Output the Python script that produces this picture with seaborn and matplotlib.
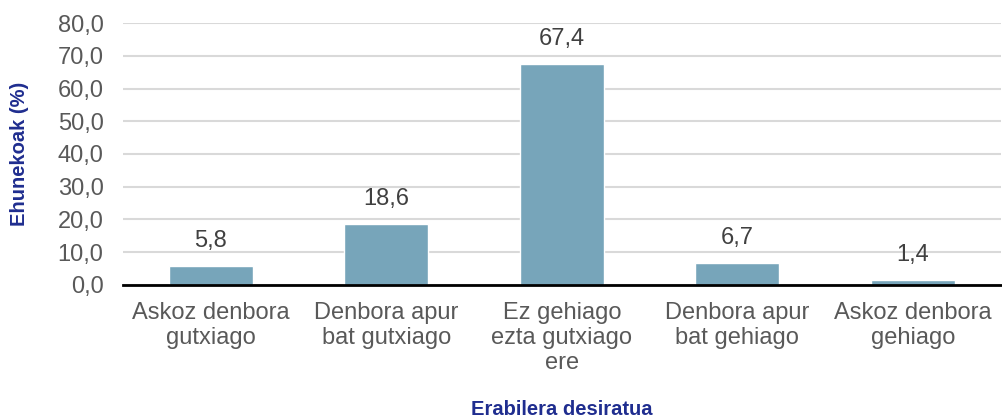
import matplotlib
matplotlib.use("Agg")
import matplotlib.pyplot as plt
import seaborn as sns
import pandas as pd
import numpy as np
from matplotlib.ticker import FuncFormatter, FixedLocator

# Datos del gráfico
categorias = [
    "Askoz denbora\ngutxiago",
    "Denbora apur\nbat gutxiago",
    "Ez gehiago\nezta gutxiago\nere",
    "Denbora apur\nbat gehiago",
    "Askoz denbora\ngehiago",
]
valores = [5.8, 18.6, 67.4, 6.7, 1.4]
y_ticks = [0, 10, 20, 30, 40, 50, 60, 70, 80]

sns.set_theme(style="white")
plt.rcParams['font.family'] = ['Liberation Sans', 'DejaVu Sans']

df = pd.DataFrame({'categoria': categorias, 'valor': valores})

fig = plt.figure(figsize=(10.03, 4.19), dpi=100)
ax = fig.add_axes([0.1226, 0.32, 0.875, 0.625])

sns.barplot(data=df, x='categoria', y='valor', color='#77A5BA',
            saturation=1, width=0.48, ax=ax, zorder=3)

# Etiquetas de datos
etiquetas = [f"{v:.1f}".replace('.', ',') for v in valores]
ax.bar_label(ax.containers[0], labels=etiquetas, padding=10,
             fontsize=17, color='#404040')

# Eje Y
ax.set_ylim(0, 80)
ax.set_yticks(y_ticks)
ax.yaxis.set_major_formatter(FuncFormatter(lambda v, p: f"{v:.1f}".replace('.', ',')))
ax.tick_params(axis='y', length=0, labelsize=17, labelcolor='#595959', pad=14)
ax.grid(axis='y', color='#D9D9D9', linewidth=1.5, zorder=0)

# Eje X
ax.set_xlim(-0.5, 4.5)
ax.tick_params(axis='x', which='major', length=0, labelsize=17,
               labelcolor='#595959', pad=12)
ax.xaxis.set_minor_locator(FixedLocator(np.arange(-0.5, 5.0, 1.0)))
ax.tick_params(axis='x', which='minor', length=8, width=2, color='black', direction='out')

for lado in ['top', 'right', 'left']:
    ax.spines[lado].set_visible(False)
ax.spines['bottom'].set_color('black')
ax.spines['bottom'].set_linewidth(2)
ax.spines['bottom'].set_zorder(5)

ax.set_ylabel('Ehunekoak (%)', fontsize=14.5, fontweight='bold', color='#1F2D8F')
ax.yaxis.set_label_coords(-0.107, 0.5)
ax.set_xlabel('Erabilera desiratua', fontsize=14.5, fontweight='bold', color='#1F2D8F')
ax.xaxis.set_label_coords(0.5, -0.44)

fig.savefig('out.png', dpi=100)
